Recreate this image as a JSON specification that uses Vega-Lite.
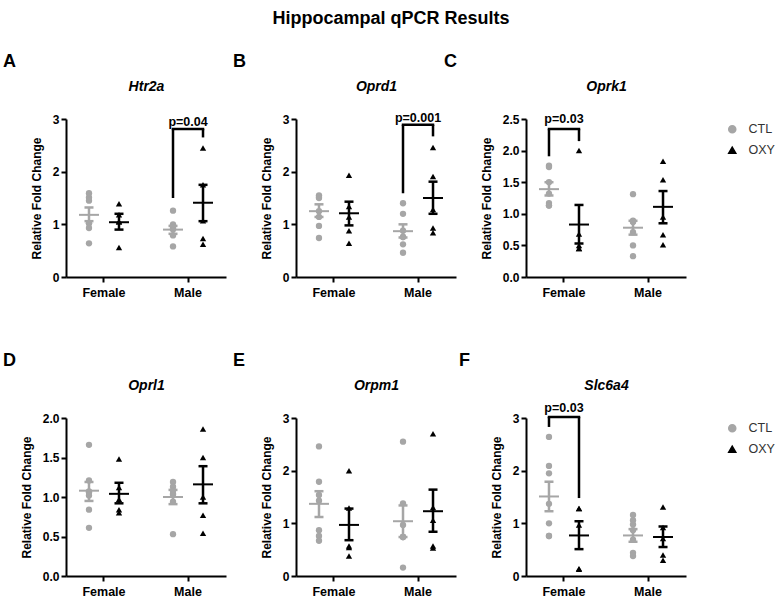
{
"$schema":"https://vega.github.io/schema/vega-lite/v6.json",
"padding":{"left":3,"top":10,"right":2,"bottom":0},
"title":{"text":"Hippocampal qPCR Results","fontSize":18,"fontWeight":"bold","font":"Liberation Sans","anchor":"middle","offset":25,"color":"#000"},
"config":{
 "font":"Liberation Sans",
 "view":{"stroke":null},
 "axis":{"labelFont":"Liberation Sans","titleFont":"Liberation Sans","labelFontWeight":"bold","labelFontSize":12,"labelColor":"#000","titleFontWeight":"bold","titleFontSize":12,"titleColor":"#000","domainColor":"#000","domainWidth":2,"tickColor":"#000","tickWidth":2,"tickSize":5,"grid":false,"labelPadding":3},
 "axisY":{"titlePadding":9,"labelPadding":2},
 "axisX":{"labelFontSize":12.5,"labelPadding":4,"labelAngle":0},
 "title":{"font":"Liberation Sans","color":"#000"}
},
"datasets":{
"pts":[
{"gene":"Htr2a","sex":"Female","group":"CTL","value":1.51},{"gene":"Htr2a","sex":"Female","group":"CTL","value":1.59},{"gene":"Htr2a","sex":"Female","group":"CTL","value":1.45},{"gene":"Htr2a","sex":"Female","group":"CTL","value":1.02},{"gene":"Htr2a","sex":"Female","group":"CTL","value":1.02},{"gene":"Htr2a","sex":"Female","group":"CTL","value":0.93},{"gene":"Htr2a","sex":"Female","group":"CTL","value":0.64},
{"gene":"Htr2a","sex":"Female","group":"OXY","value":1.39},{"gene":"Htr2a","sex":"Female","group":"OXY","value":1.18},{"gene":"Htr2a","sex":"Female","group":"OXY","value":1.05},{"gene":"Htr2a","sex":"Female","group":"OXY","value":1.05},{"gene":"Htr2a","sex":"Female","group":"OXY","value":0.56},
{"gene":"Htr2a","sex":"Male","group":"CTL","value":1.26},{"gene":"Htr2a","sex":"Male","group":"CTL","value":1.00},{"gene":"Htr2a","sex":"Male","group":"CTL","value":0.95},{"gene":"Htr2a","sex":"Male","group":"CTL","value":0.92},{"gene":"Htr2a","sex":"Male","group":"CTL","value":0.90},{"gene":"Htr2a","sex":"Male","group":"CTL","value":0.79},{"gene":"Htr2a","sex":"Male","group":"CTL","value":0.58},
{"gene":"Htr2a","sex":"Male","group":"OXY","value":2.45},{"gene":"Htr2a","sex":"Male","group":"OXY","value":1.75},{"gene":"Htr2a","sex":"Male","group":"OXY","value":1.07},{"gene":"Htr2a","sex":"Male","group":"OXY","value":0.62},{"gene":"Htr2a","sex":"Male","group":"OXY","value":0.73},
{"gene":"Oprd1","sex":"Female","group":"CTL","value":1.55},{"gene":"Oprd1","sex":"Female","group":"CTL","value":1.52},{"gene":"Oprd1","sex":"Female","group":"CTL","value":1.50},{"gene":"Oprd1","sex":"Female","group":"CTL","value":1.25},{"gene":"Oprd1","sex":"Female","group":"CTL","value":1.14},{"gene":"Oprd1","sex":"Female","group":"CTL","value":0.97},{"gene":"Oprd1","sex":"Female","group":"CTL","value":0.74},
{"gene":"Oprd1","sex":"Female","group":"OXY","value":1.93},{"gene":"Oprd1","sex":"Female","group":"OXY","value":1.34},{"gene":"Oprd1","sex":"Female","group":"OXY","value":1.14},{"gene":"Oprd1","sex":"Female","group":"OXY","value":0.88},{"gene":"Oprd1","sex":"Female","group":"OXY","value":0.64},
{"gene":"Oprd1","sex":"Male","group":"CTL","value":1.40},{"gene":"Oprd1","sex":"Male","group":"CTL","value":1.20},{"gene":"Oprd1","sex":"Male","group":"CTL","value":0.88},{"gene":"Oprd1","sex":"Male","group":"CTL","value":0.76},{"gene":"Oprd1","sex":"Male","group":"CTL","value":0.76},{"gene":"Oprd1","sex":"Male","group":"CTL","value":0.62},{"gene":"Oprd1","sex":"Male","group":"CTL","value":0.46},
{"gene":"Oprd1","sex":"Male","group":"OXY","value":2.46},{"gene":"Oprd1","sex":"Male","group":"OXY","value":1.91},{"gene":"Oprd1","sex":"Male","group":"OXY","value":1.28},{"gene":"Oprd1","sex":"Male","group":"OXY","value":0.84},{"gene":"Oprd1","sex":"Male","group":"OXY","value":0.93},
{"gene":"Oprk1","sex":"Female","group":"CTL","value":1.76},{"gene":"Oprk1","sex":"Female","group":"CTL","value":1.74},{"gene":"Oprk1","sex":"Female","group":"CTL","value":1.50},{"gene":"Oprk1","sex":"Female","group":"CTL","value":1.32},{"gene":"Oprk1","sex":"Female","group":"CTL","value":1.17},{"gene":"Oprk1","sex":"Female","group":"CTL","value":1.13},{"gene":"Oprk1","sex":"Female","group":"CTL","value":1.13},
{"gene":"Oprk1","sex":"Female","group":"OXY","value":2.00},{"gene":"Oprk1","sex":"Female","group":"OXY","value":0.68},{"gene":"Oprk1","sex":"Female","group":"OXY","value":0.50},{"gene":"Oprk1","sex":"Female","group":"OXY","value":0.45},{"gene":"Oprk1","sex":"Female","group":"OXY","value":0.45},
{"gene":"Oprk1","sex":"Male","group":"CTL","value":1.31},{"gene":"Oprk1","sex":"Male","group":"CTL","value":0.89},{"gene":"Oprk1","sex":"Male","group":"CTL","value":0.88},{"gene":"Oprk1","sex":"Male","group":"CTL","value":0.87},{"gene":"Oprk1","sex":"Male","group":"CTL","value":0.71},{"gene":"Oprk1","sex":"Male","group":"CTL","value":0.50},{"gene":"Oprk1","sex":"Male","group":"CTL","value":0.33},
{"gene":"Oprk1","sex":"Male","group":"OXY","value":1.83},{"gene":"Oprk1","sex":"Male","group":"OXY","value":1.54},{"gene":"Oprk1","sex":"Male","group":"OXY","value":0.95},{"gene":"Oprk1","sex":"Male","group":"OXY","value":0.67},{"gene":"Oprk1","sex":"Male","group":"OXY","value":0.51},
{"gene":"Oprl1","sex":"Female","group":"CTL","value":1.66},{"gene":"Oprl1","sex":"Female","group":"CTL","value":1.21},{"gene":"Oprl1","sex":"Female","group":"CTL","value":1.07},{"gene":"Oprl1","sex":"Female","group":"CTL","value":1.06},{"gene":"Oprl1","sex":"Female","group":"CTL","value":1.02},{"gene":"Oprl1","sex":"Female","group":"CTL","value":0.84},{"gene":"Oprl1","sex":"Female","group":"CTL","value":0.61},
{"gene":"Oprl1","sex":"Female","group":"OXY","value":1.48},{"gene":"Oprl1","sex":"Female","group":"OXY","value":1.12},{"gene":"Oprl1","sex":"Female","group":"OXY","value":0.97},{"gene":"Oprl1","sex":"Female","group":"OXY","value":0.80},{"gene":"Oprl1","sex":"Female","group":"OXY","value":0.84},
{"gene":"Oprl1","sex":"Male","group":"CTL","value":1.19},{"gene":"Oprl1","sex":"Male","group":"CTL","value":1.13},{"gene":"Oprl1","sex":"Male","group":"CTL","value":1.08},{"gene":"Oprl1","sex":"Male","group":"CTL","value":1.04},{"gene":"Oprl1","sex":"Male","group":"CTL","value":1.03},{"gene":"Oprl1","sex":"Male","group":"CTL","value":0.94},{"gene":"Oprl1","sex":"Male","group":"CTL","value":0.53},
{"gene":"Oprl1","sex":"Male","group":"OXY","value":1.86},{"gene":"Oprl1","sex":"Male","group":"OXY","value":1.50},{"gene":"Oprl1","sex":"Male","group":"OXY","value":1.00},{"gene":"Oprl1","sex":"Male","group":"OXY","value":0.77},{"gene":"Oprl1","sex":"Male","group":"OXY","value":0.54},
{"gene":"Orpm1","sex":"Female","group":"CTL","value":2.46},{"gene":"Orpm1","sex":"Female","group":"CTL","value":1.79},{"gene":"Orpm1","sex":"Female","group":"CTL","value":1.54},{"gene":"Orpm1","sex":"Female","group":"CTL","value":1.43},{"gene":"Orpm1","sex":"Female","group":"CTL","value":0.87},{"gene":"Orpm1","sex":"Female","group":"CTL","value":0.76},{"gene":"Orpm1","sex":"Female","group":"CTL","value":0.67},
{"gene":"Orpm1","sex":"Female","group":"OXY","value":2.00},{"gene":"Orpm1","sex":"Female","group":"OXY","value":1.29},{"gene":"Orpm1","sex":"Female","group":"OXY","value":0.57},{"gene":"Orpm1","sex":"Female","group":"OXY","value":0.54},{"gene":"Orpm1","sex":"Female","group":"OXY","value":0.38},
{"gene":"Orpm1","sex":"Male","group":"CTL","value":2.55},{"gene":"Orpm1","sex":"Male","group":"CTL","value":1.38},{"gene":"Orpm1","sex":"Male","group":"CTL","value":0.97},{"gene":"Orpm1","sex":"Male","group":"CTL","value":0.74},{"gene":"Orpm1","sex":"Male","group":"CTL","value":0.74},{"gene":"Orpm1","sex":"Male","group":"CTL","value":0.74},{"gene":"Orpm1","sex":"Male","group":"CTL","value":0.16},
{"gene":"Orpm1","sex":"Male","group":"OXY","value":2.70},{"gene":"Orpm1","sex":"Male","group":"OXY","value":1.30},{"gene":"Orpm1","sex":"Male","group":"OXY","value":1.06},{"gene":"Orpm1","sex":"Male","group":"OXY","value":0.53},{"gene":"Orpm1","sex":"Male","group":"OXY","value":0.57},
{"gene":"Slc6a4","sex":"Female","group":"CTL","value":2.64},{"gene":"Slc6a4","sex":"Female","group":"CTL","value":2.09},{"gene":"Slc6a4","sex":"Female","group":"CTL","value":1.95},{"gene":"Slc6a4","sex":"Female","group":"CTL","value":1.37},{"gene":"Slc6a4","sex":"Female","group":"CTL","value":1.00},{"gene":"Slc6a4","sex":"Female","group":"CTL","value":0.76},{"gene":"Slc6a4","sex":"Female","group":"CTL","value":0.76},
{"gene":"Slc6a4","sex":"Female","group":"OXY","value":1.28},{"gene":"Slc6a4","sex":"Female","group":"OXY","value":1.28},{"gene":"Slc6a4","sex":"Female","group":"OXY","value":0.97},{"gene":"Slc6a4","sex":"Female","group":"OXY","value":0.13},{"gene":"Slc6a4","sex":"Female","group":"OXY","value":0.14},
{"gene":"Slc6a4","sex":"Male","group":"CTL","value":1.16},{"gene":"Slc6a4","sex":"Male","group":"CTL","value":1.06},{"gene":"Slc6a4","sex":"Male","group":"CTL","value":0.98},{"gene":"Slc6a4","sex":"Male","group":"CTL","value":0.87},{"gene":"Slc6a4","sex":"Male","group":"CTL","value":0.69},{"gene":"Slc6a4","sex":"Male","group":"CTL","value":0.44},{"gene":"Slc6a4","sex":"Male","group":"CTL","value":0.38},
{"gene":"Slc6a4","sex":"Male","group":"OXY","value":1.31},{"gene":"Slc6a4","sex":"Male","group":"OXY","value":0.92},{"gene":"Slc6a4","sex":"Male","group":"OXY","value":0.71},{"gene":"Slc6a4","sex":"Male","group":"OXY","value":0.30},{"gene":"Slc6a4","sex":"Male","group":"OXY","value":0.40}
],
"sem":[
{"gene":"Htr2a","sex":"Female","group":"CTL","mean":1.18,"lo":1.06,"hi":1.32},{"gene":"Htr2a","sex":"Female","group":"OXY","mean":1.04,"lo":0.90,"hi":1.20},{"gene":"Htr2a","sex":"Male","group":"CTL","mean":0.90,"lo":0.82,"hi":0.97},{"gene":"Htr2a","sex":"Male","group":"OXY","mean":1.41,"lo":1.06,"hi":1.75},
{"gene":"Oprd1","sex":"Female","group":"CTL","mean":1.25,"lo":1.14,"hi":1.38},{"gene":"Oprd1","sex":"Female","group":"OXY","mean":1.21,"lo":0.98,"hi":1.43},{"gene":"Oprd1","sex":"Male","group":"CTL","mean":0.87,"lo":0.75,"hi":1.00},{"gene":"Oprd1","sex":"Male","group":"OXY","mean":1.50,"lo":1.20,"hi":1.81},
{"gene":"Oprk1","sex":"Female","group":"CTL","mean":1.39,"lo":1.29,"hi":1.50},{"gene":"Oprk1","sex":"Female","group":"OXY","mean":0.83,"lo":0.53,"hi":1.14},{"gene":"Oprk1","sex":"Male","group":"CTL","mean":0.78,"lo":0.67,"hi":0.89},{"gene":"Oprk1","sex":"Male","group":"OXY","mean":1.11,"lo":0.85,"hi":1.36},
{"gene":"Oprl1","sex":"Female","group":"CTL","mean":1.08,"lo":0.95,"hi":1.19},{"gene":"Oprl1","sex":"Female","group":"OXY","mean":1.04,"lo":0.92,"hi":1.18},{"gene":"Oprl1","sex":"Male","group":"CTL","mean":1.00,"lo":0.91,"hi":1.09},{"gene":"Oprl1","sex":"Male","group":"OXY","mean":1.16,"lo":0.92,"hi":1.39},
{"gene":"Orpm1","sex":"Female","group":"CTL","mean":1.37,"lo":1.12,"hi":1.61},{"gene":"Orpm1","sex":"Female","group":"OXY","mean":0.97,"lo":0.68,"hi":1.28},{"gene":"Orpm1","sex":"Male","group":"CTL","mean":1.04,"lo":0.74,"hi":1.34},{"gene":"Orpm1","sex":"Male","group":"OXY","mean":1.23,"lo":0.84,"hi":1.64},
{"gene":"Slc6a4","sex":"Female","group":"CTL","mean":1.51,"lo":1.23,"hi":1.79},{"gene":"Slc6a4","sex":"Female","group":"OXY","mean":0.77,"lo":0.51,"hi":1.04},{"gene":"Slc6a4","sex":"Male","group":"CTL","mean":0.77,"lo":0.65,"hi":0.89},{"gene":"Slc6a4","sex":"Male","group":"OXY","mean":0.74,"lo":0.55,"hi":0.94}
],
"brk":[
{"gene":"Htr2a","sex":"Male","group":"CTL","from":1.50,"to":2.81},{"gene":"Htr2a","sex":"Male","group":"OXY","from":2.65,"to":2.81},
{"gene":"Oprd1","sex":"Male","group":"CTL","from":1.59,"to":2.89},{"gene":"Oprd1","sex":"Male","group":"OXY","from":2.67,"to":2.89},
{"gene":"Oprk1","sex":"Female","group":"CTL","from":1.91,"to":2.34},{"gene":"Oprk1","sex":"Female","group":"OXY","from":2.15,"to":2.34},
{"gene":"Slc6a4","sex":"Female","group":"CTL","from":2.83,"to":3.02},{"gene":"Slc6a4","sex":"Female","group":"OXY","from":1.48,"to":3.02}
],
"ptxt":[
{"gene":"Htr2a","sex":"Male","label":"p=0.04","y":2.95},
{"gene":"Oprd1","sex":"Male","label":"p=0.001","y":3.02},
{"gene":"Oprk1","sex":"Female","label":"p=0.03","y":2.5},
{"gene":"Slc6a4","sex":"Female","label":"p=0.03","y":3.19}
]
},
"bounds":"flush",
"spacing":299,
"resolve":{"scale":{"x":"independent","y":"independent","color":"independent","shape":"independent"},"legend":{"color":"independent","shape":"independent"}},
"vconcat":[
{"bounds":"flush","spacing":70,
 "resolve":{"scale":{"x":"independent","y":"independent","color":"independent","shape":"independent"},"legend":{"color":"independent","shape":"independent"}},
 "hconcat":[
 {"width":160,"height":158,
  "title":{"text":"A","anchor":"start","frame":"group","dx":-63,"fontSize":18,"fontWeight":"bold","offset":8},
  "resolve":{"axis":{"x":"independent","y":"independent"}},
  "layer":[
   {"data":{"name":"pts"},"transform":[{"filter":"datum.gene === 'Htr2a'"}],"mark":{"type":"point","filled":true,"size":40,"opacity":1},
    "encoding":{"x":{"field":"sex","type":"nominal","scale":{"type":"band","domain":["Female","Male"],"paddingInner":0.2857,"paddingOuter":0.095},"axis":{"title":null}},
     "xOffset":{"field":"group","type":"nominal","scale":{"type":"band","domain":["CTL","OXY"],"paddingInner":0,"paddingOuter":0}},
     "y":{"field":"value","type":"quantitative","scale":{"domain":[0,3],"nice":false},"axis":{"title":"Relative Fold Change","values":[0,1,2,3],"format":"d"}},
     "color":{"field":"group","type":"nominal","scale":{"domain":["CTL","OXY"],"range":["#a6a6a6","#000000"]},"legend":null},
     "shape":{"field":"group","type":"nominal","scale":{"domain":["CTL","OXY"],"range":["circle","triangle-up"]},"legend":null}}},
   {"data":{"name":"sem"},"transform":[{"filter":"datum.gene === 'Htr2a'"}],"mark":{"type":"rule","strokeWidth":2.5},
    "encoding":{"x":{"field":"sex","type":"nominal","scale":{"type":"band","domain":["Female","Male"],"paddingInner":0.2857,"paddingOuter":0.095},"axis":null},
     "xOffset":{"field":"group","type":"nominal","scale":{"type":"band","domain":["CTL","OXY"],"paddingInner":0,"paddingOuter":0}},
     "y":{"field":"lo","type":"quantitative","scale":{"domain":[0,3],"nice":false},"axis":null},"y2":{"field":"hi"},
     "color":{"field":"group","type":"nominal","scale":{"domain":["CTL","OXY"],"range":["#a6a6a6","#000000"]},"legend":null}}},
   {"data":{"name":"sem"},"transform":[{"filter":"datum.gene === 'Htr2a'"},{"fold":["lo","hi"],"as":["k","v"]}],"mark":{"type":"tick","size":9,"thickness":2.5,"opacity":1},
    "encoding":{"x":{"field":"sex","type":"nominal","scale":{"type":"band","domain":["Female","Male"],"paddingInner":0.2857,"paddingOuter":0.095},"axis":null},
     "xOffset":{"field":"group","type":"nominal","scale":{"type":"band","domain":["CTL","OXY"],"paddingInner":0,"paddingOuter":0}},
     "y":{"field":"v","type":"quantitative","scale":{"domain":[0,3],"nice":false},"axis":null},
     "color":{"field":"group","type":"nominal","scale":{"domain":["CTL","OXY"],"range":["#a6a6a6","#000000"]},"legend":null}}},
   {"data":{"name":"sem"},"transform":[{"filter":"datum.gene === 'Htr2a'"}],"mark":{"type":"tick","size":20,"thickness":2,"opacity":1},
    "encoding":{"x":{"field":"sex","type":"nominal","scale":{"type":"band","domain":["Female","Male"],"paddingInner":0.2857,"paddingOuter":0.095},"axis":{"orient":"top","title":"Htr2a","labels":false,"ticks":false,"domain":false,"titleFontStyle":"italic","titleFontSize":14,"titlePadding":26}},
     "xOffset":{"field":"group","type":"nominal","scale":{"type":"band","domain":["CTL","OXY"],"paddingInner":0,"paddingOuter":0}},
     "y":{"field":"mean","type":"quantitative","scale":{"domain":[0,3],"nice":false},"axis":null},
     "color":{"field":"group","type":"nominal","scale":{"domain":["CTL","OXY"],"range":["#a6a6a6","#000000"]},"legend":null}}},
   {"data":{"name":"brk"},"transform":[{"filter":"datum.gene === 'Htr2a'"}],"mark":{"type":"rule","strokeWidth":2.5,"color":"#000"},
    "encoding":{"x":{"field":"sex","type":"nominal","scale":{"type":"band","domain":["Female","Male"],"paddingInner":0.2857,"paddingOuter":0.095},"axis":null},
     "xOffset":{"field":"group","type":"nominal","scale":{"type":"band","domain":["CTL","OXY"],"paddingInner":0,"paddingOuter":0}},
     "y":{"field":"from","type":"quantitative","scale":{"domain":[0,3],"nice":false},"axis":null},"y2":{"field":"to"}}},
   {"data":{"name":"brk"},"transform":[{"filter":"datum.gene === 'Htr2a' && datum.group === 'CTL'"}],"mark":{"type":"tick","size":32.5,"thickness":2.5,"color":"#000","opacity":1},
    "encoding":{"x":{"field":"sex","type":"nominal","scale":{"type":"band","domain":["Female","Male"],"paddingInner":0.2857,"paddingOuter":0.095},"axis":null},
     "y":{"field":"to","type":"quantitative","scale":{"domain":[0,3],"nice":false},"axis":null}}},
   {"data":{"name":"ptxt"},"transform":[{"filter":"datum.gene === 'Htr2a'"}],"mark":{"type":"text","fontSize":12.5,"fontWeight":"bold","color":"#000"},
    "encoding":{"x":{"field":"sex","type":"nominal","scale":{"type":"band","domain":["Female","Male"],"paddingInner":0.2857,"paddingOuter":0.095},"axis":null},
     "y":{"field":"y","type":"quantitative","scale":{"domain":[0,3],"nice":false},"axis":null},"text":{"field":"label"}}}
  ]},
 {"width":160,"height":158,
  "title":{"text":"B","anchor":"start","frame":"group","dx":-63,"fontSize":18,"fontWeight":"bold","offset":8},
  "resolve":{"axis":{"x":"independent","y":"independent"}},
  "layer":[
   {"data":{"name":"pts"},"transform":[{"filter":"datum.gene === 'Oprd1'"}],"mark":{"type":"point","filled":true,"size":40,"opacity":1},
    "encoding":{"x":{"field":"sex","type":"nominal","scale":{"type":"band","domain":["Female","Male"],"paddingInner":0.2857,"paddingOuter":0.095},"axis":{"title":null}},
     "xOffset":{"field":"group","type":"nominal","scale":{"type":"band","domain":["CTL","OXY"],"paddingInner":0,"paddingOuter":0}},
     "y":{"field":"value","type":"quantitative","scale":{"domain":[0,3],"nice":false},"axis":{"title":"Relative Fold Change","values":[0,1,2,3],"format":"d"}},
     "color":{"field":"group","type":"nominal","scale":{"domain":["CTL","OXY"],"range":["#a6a6a6","#000000"]},"legend":null},
     "shape":{"field":"group","type":"nominal","scale":{"domain":["CTL","OXY"],"range":["circle","triangle-up"]},"legend":null}}},
   {"data":{"name":"sem"},"transform":[{"filter":"datum.gene === 'Oprd1'"}],"mark":{"type":"rule","strokeWidth":2.5},
    "encoding":{"x":{"field":"sex","type":"nominal","scale":{"type":"band","domain":["Female","Male"],"paddingInner":0.2857,"paddingOuter":0.095},"axis":null},
     "xOffset":{"field":"group","type":"nominal","scale":{"type":"band","domain":["CTL","OXY"],"paddingInner":0,"paddingOuter":0}},
     "y":{"field":"lo","type":"quantitative","scale":{"domain":[0,3],"nice":false},"axis":null},"y2":{"field":"hi"},
     "color":{"field":"group","type":"nominal","scale":{"domain":["CTL","OXY"],"range":["#a6a6a6","#000000"]},"legend":null}}},
   {"data":{"name":"sem"},"transform":[{"filter":"datum.gene === 'Oprd1'"},{"fold":["lo","hi"],"as":["k","v"]}],"mark":{"type":"tick","size":9,"thickness":2.5,"opacity":1},
    "encoding":{"x":{"field":"sex","type":"nominal","scale":{"type":"band","domain":["Female","Male"],"paddingInner":0.2857,"paddingOuter":0.095},"axis":null},
     "xOffset":{"field":"group","type":"nominal","scale":{"type":"band","domain":["CTL","OXY"],"paddingInner":0,"paddingOuter":0}},
     "y":{"field":"v","type":"quantitative","scale":{"domain":[0,3],"nice":false},"axis":null},
     "color":{"field":"group","type":"nominal","scale":{"domain":["CTL","OXY"],"range":["#a6a6a6","#000000"]},"legend":null}}},
   {"data":{"name":"sem"},"transform":[{"filter":"datum.gene === 'Oprd1'"}],"mark":{"type":"tick","size":20,"thickness":2,"opacity":1},
    "encoding":{"x":{"field":"sex","type":"nominal","scale":{"type":"band","domain":["Female","Male"],"paddingInner":0.2857,"paddingOuter":0.095},"axis":{"orient":"top","title":"Oprd1","labels":false,"ticks":false,"domain":false,"titleFontStyle":"italic","titleFontSize":14,"titlePadding":26}},
     "xOffset":{"field":"group","type":"nominal","scale":{"type":"band","domain":["CTL","OXY"],"paddingInner":0,"paddingOuter":0}},
     "y":{"field":"mean","type":"quantitative","scale":{"domain":[0,3],"nice":false},"axis":null},
     "color":{"field":"group","type":"nominal","scale":{"domain":["CTL","OXY"],"range":["#a6a6a6","#000000"]},"legend":null}}},
   {"data":{"name":"brk"},"transform":[{"filter":"datum.gene === 'Oprd1'"}],"mark":{"type":"rule","strokeWidth":2.5,"color":"#000"},
    "encoding":{"x":{"field":"sex","type":"nominal","scale":{"type":"band","domain":["Female","Male"],"paddingInner":0.2857,"paddingOuter":0.095},"axis":null},
     "xOffset":{"field":"group","type":"nominal","scale":{"type":"band","domain":["CTL","OXY"],"paddingInner":0,"paddingOuter":0}},
     "y":{"field":"from","type":"quantitative","scale":{"domain":[0,3],"nice":false},"axis":null},"y2":{"field":"to"}}},
   {"data":{"name":"brk"},"transform":[{"filter":"datum.gene === 'Oprd1' && datum.group === 'CTL'"}],"mark":{"type":"tick","size":32.5,"thickness":2.5,"color":"#000","opacity":1},
    "encoding":{"x":{"field":"sex","type":"nominal","scale":{"type":"band","domain":["Female","Male"],"paddingInner":0.2857,"paddingOuter":0.095},"axis":null},
     "y":{"field":"to","type":"quantitative","scale":{"domain":[0,3],"nice":false},"axis":null}}},
   {"data":{"name":"ptxt"},"transform":[{"filter":"datum.gene === 'Oprd1'"}],"mark":{"type":"text","fontSize":12.5,"fontWeight":"bold","color":"#000"},
    "encoding":{"x":{"field":"sex","type":"nominal","scale":{"type":"band","domain":["Female","Male"],"paddingInner":0.2857,"paddingOuter":0.095},"axis":null},
     "y":{"field":"y","type":"quantitative","scale":{"domain":[0,3],"nice":false},"axis":null},"text":{"field":"label"}}}
  ]},
 {"width":160,"height":158,
  "title":{"text":"C","anchor":"start","frame":"group","dx":-82,"fontSize":18,"fontWeight":"bold","offset":8},
  "resolve":{"axis":{"x":"independent","y":"independent"}},
  "layer":[
   {"data":{"name":"pts"},"transform":[{"filter":"datum.gene === 'Oprk1'"}],"mark":{"type":"point","filled":true,"size":40,"opacity":1},
    "encoding":{"x":{"field":"sex","type":"nominal","scale":{"type":"band","domain":["Female","Male"],"paddingInner":0.2857,"paddingOuter":0.095},"axis":{"title":null}},
     "xOffset":{"field":"group","type":"nominal","scale":{"type":"band","domain":["CTL","OXY"],"paddingInner":0,"paddingOuter":0}},
     "y":{"field":"value","type":"quantitative","scale":{"domain":[0,2.5],"nice":false},"axis":{"title":"Relative Fold Change","values":[0,0.5,1,1.5,2,2.5],"format":".1f"}},
     "color":{"field":"group","type":"nominal","scale":{"domain":["CTL","OXY"],"range":["#a6a6a6","#000000"]},"legend":{"title":null,"orient":"right","offset":36,"labelFontSize":12.5,"labelColor":"#333","symbolSize":50,"rowPadding":8,"padding":4,"labelOffset":10}},
     "shape":{"field":"group","type":"nominal","scale":{"domain":["CTL","OXY"],"range":["circle","triangle-up"]},"legend":{"title":null,"orient":"right","offset":36,"labelFontSize":12.5,"labelColor":"#333","symbolSize":50,"rowPadding":8,"padding":4,"labelOffset":10}}}},
   {"data":{"name":"sem"},"transform":[{"filter":"datum.gene === 'Oprk1'"}],"mark":{"type":"rule","strokeWidth":2.5},
    "encoding":{"x":{"field":"sex","type":"nominal","scale":{"type":"band","domain":["Female","Male"],"paddingInner":0.2857,"paddingOuter":0.095},"axis":null},
     "xOffset":{"field":"group","type":"nominal","scale":{"type":"band","domain":["CTL","OXY"],"paddingInner":0,"paddingOuter":0}},
     "y":{"field":"lo","type":"quantitative","scale":{"domain":[0,2.5],"nice":false},"axis":null},"y2":{"field":"hi"},
     "color":{"field":"group","type":"nominal","scale":{"domain":["CTL","OXY"],"range":["#a6a6a6","#000000"]},"legend":null}}},
   {"data":{"name":"sem"},"transform":[{"filter":"datum.gene === 'Oprk1'"},{"fold":["lo","hi"],"as":["k","v"]}],"mark":{"type":"tick","size":9,"thickness":2.5,"opacity":1},
    "encoding":{"x":{"field":"sex","type":"nominal","scale":{"type":"band","domain":["Female","Male"],"paddingInner":0.2857,"paddingOuter":0.095},"axis":null},
     "xOffset":{"field":"group","type":"nominal","scale":{"type":"band","domain":["CTL","OXY"],"paddingInner":0,"paddingOuter":0}},
     "y":{"field":"v","type":"quantitative","scale":{"domain":[0,2.5],"nice":false},"axis":null},
     "color":{"field":"group","type":"nominal","scale":{"domain":["CTL","OXY"],"range":["#a6a6a6","#000000"]},"legend":null}}},
   {"data":{"name":"sem"},"transform":[{"filter":"datum.gene === 'Oprk1'"}],"mark":{"type":"tick","size":20,"thickness":2,"opacity":1},
    "encoding":{"x":{"field":"sex","type":"nominal","scale":{"type":"band","domain":["Female","Male"],"paddingInner":0.2857,"paddingOuter":0.095},"axis":{"orient":"top","title":"Oprk1","labels":false,"ticks":false,"domain":false,"titleFontStyle":"italic","titleFontSize":14,"titlePadding":26}},
     "xOffset":{"field":"group","type":"nominal","scale":{"type":"band","domain":["CTL","OXY"],"paddingInner":0,"paddingOuter":0}},
     "y":{"field":"mean","type":"quantitative","scale":{"domain":[0,2.5],"nice":false},"axis":null},
     "color":{"field":"group","type":"nominal","scale":{"domain":["CTL","OXY"],"range":["#a6a6a6","#000000"]},"legend":null}}},
   {"data":{"name":"brk"},"transform":[{"filter":"datum.gene === 'Oprk1'"}],"mark":{"type":"rule","strokeWidth":2.5,"color":"#000"},
    "encoding":{"x":{"field":"sex","type":"nominal","scale":{"type":"band","domain":["Female","Male"],"paddingInner":0.2857,"paddingOuter":0.095},"axis":null},
     "xOffset":{"field":"group","type":"nominal","scale":{"type":"band","domain":["CTL","OXY"],"paddingInner":0,"paddingOuter":0}},
     "y":{"field":"from","type":"quantitative","scale":{"domain":[0,2.5],"nice":false},"axis":null},"y2":{"field":"to"}}},
   {"data":{"name":"brk"},"transform":[{"filter":"datum.gene === 'Oprk1' && datum.group === 'CTL'"}],"mark":{"type":"tick","size":32.5,"thickness":2.5,"color":"#000","opacity":1},
    "encoding":{"x":{"field":"sex","type":"nominal","scale":{"type":"band","domain":["Female","Male"],"paddingInner":0.2857,"paddingOuter":0.095},"axis":null},
     "y":{"field":"to","type":"quantitative","scale":{"domain":[0,2.5],"nice":false},"axis":null}}},
   {"data":{"name":"ptxt"},"transform":[{"filter":"datum.gene === 'Oprk1'"}],"mark":{"type":"text","fontSize":12.5,"fontWeight":"bold","color":"#000"},
    "encoding":{"x":{"field":"sex","type":"nominal","scale":{"type":"band","domain":["Female","Male"],"paddingInner":0.2857,"paddingOuter":0.095},"axis":null},
     "y":{"field":"y","type":"quantitative","scale":{"domain":[0,2.5],"nice":false},"axis":null},"text":{"field":"label"}}}
  ]}
 ]},
{"bounds":"flush","spacing":70,
 "resolve":{"scale":{"x":"independent","y":"independent","color":"independent","shape":"independent"},"legend":{"color":"independent","shape":"independent"}},
 "hconcat":[
 {"width":160,"height":158,
  "title":{"text":"D","anchor":"start","frame":"group","dx":-63,"fontSize":18,"fontWeight":"bold","offset":8},
  "resolve":{"axis":{"x":"independent","y":"independent"}},
  "layer":[
   {"data":{"name":"pts"},"transform":[{"filter":"datum.gene === 'Oprl1'"}],"mark":{"type":"point","filled":true,"size":40,"opacity":1},
    "encoding":{"x":{"field":"sex","type":"nominal","scale":{"type":"band","domain":["Female","Male"],"paddingInner":0.2857,"paddingOuter":0.095},"axis":{"title":null}},
     "xOffset":{"field":"group","type":"nominal","scale":{"type":"band","domain":["CTL","OXY"],"paddingInner":0,"paddingOuter":0}},
     "y":{"field":"value","type":"quantitative","scale":{"domain":[0,2],"nice":false},"axis":{"title":"Relative Fold Change","values":[0,0.5,1,1.5,2],"format":".1f"}},
     "color":{"field":"group","type":"nominal","scale":{"domain":["CTL","OXY"],"range":["#a6a6a6","#000000"]},"legend":null},
     "shape":{"field":"group","type":"nominal","scale":{"domain":["CTL","OXY"],"range":["circle","triangle-up"]},"legend":null}}},
   {"data":{"name":"sem"},"transform":[{"filter":"datum.gene === 'Oprl1'"}],"mark":{"type":"rule","strokeWidth":2.5},
    "encoding":{"x":{"field":"sex","type":"nominal","scale":{"type":"band","domain":["Female","Male"],"paddingInner":0.2857,"paddingOuter":0.095},"axis":null},
     "xOffset":{"field":"group","type":"nominal","scale":{"type":"band","domain":["CTL","OXY"],"paddingInner":0,"paddingOuter":0}},
     "y":{"field":"lo","type":"quantitative","scale":{"domain":[0,2],"nice":false},"axis":null},"y2":{"field":"hi"},
     "color":{"field":"group","type":"nominal","scale":{"domain":["CTL","OXY"],"range":["#a6a6a6","#000000"]},"legend":null}}},
   {"data":{"name":"sem"},"transform":[{"filter":"datum.gene === 'Oprl1'"},{"fold":["lo","hi"],"as":["k","v"]}],"mark":{"type":"tick","size":9,"thickness":2.5,"opacity":1},
    "encoding":{"x":{"field":"sex","type":"nominal","scale":{"type":"band","domain":["Female","Male"],"paddingInner":0.2857,"paddingOuter":0.095},"axis":null},
     "xOffset":{"field":"group","type":"nominal","scale":{"type":"band","domain":["CTL","OXY"],"paddingInner":0,"paddingOuter":0}},
     "y":{"field":"v","type":"quantitative","scale":{"domain":[0,2],"nice":false},"axis":null},
     "color":{"field":"group","type":"nominal","scale":{"domain":["CTL","OXY"],"range":["#a6a6a6","#000000"]},"legend":null}}},
   {"data":{"name":"sem"},"transform":[{"filter":"datum.gene === 'Oprl1'"}],"mark":{"type":"tick","size":20,"thickness":2,"opacity":1},
    "encoding":{"x":{"field":"sex","type":"nominal","scale":{"type":"band","domain":["Female","Male"],"paddingInner":0.2857,"paddingOuter":0.095},"axis":{"orient":"top","title":"Oprl1","labels":false,"ticks":false,"domain":false,"titleFontStyle":"italic","titleFontSize":14,"titlePadding":26}},
     "xOffset":{"field":"group","type":"nominal","scale":{"type":"band","domain":["CTL","OXY"],"paddingInner":0,"paddingOuter":0}},
     "y":{"field":"mean","type":"quantitative","scale":{"domain":[0,2],"nice":false},"axis":null},
     "color":{"field":"group","type":"nominal","scale":{"domain":["CTL","OXY"],"range":["#a6a6a6","#000000"]},"legend":null}}}
  ]},
 {"width":160,"height":158,
  "title":{"text":"E","anchor":"start","frame":"group","dx":-63,"fontSize":18,"fontWeight":"bold","offset":8},
  "resolve":{"axis":{"x":"independent","y":"independent"}},
  "layer":[
   {"data":{"name":"pts"},"transform":[{"filter":"datum.gene === 'Orpm1'"}],"mark":{"type":"point","filled":true,"size":40,"opacity":1},
    "encoding":{"x":{"field":"sex","type":"nominal","scale":{"type":"band","domain":["Female","Male"],"paddingInner":0.2857,"paddingOuter":0.095},"axis":{"title":null}},
     "xOffset":{"field":"group","type":"nominal","scale":{"type":"band","domain":["CTL","OXY"],"paddingInner":0,"paddingOuter":0}},
     "y":{"field":"value","type":"quantitative","scale":{"domain":[0,3],"nice":false},"axis":{"title":"Relative Fold Change","values":[0,1,2,3],"format":"d"}},
     "color":{"field":"group","type":"nominal","scale":{"domain":["CTL","OXY"],"range":["#a6a6a6","#000000"]},"legend":null},
     "shape":{"field":"group","type":"nominal","scale":{"domain":["CTL","OXY"],"range":["circle","triangle-up"]},"legend":null}}},
   {"data":{"name":"sem"},"transform":[{"filter":"datum.gene === 'Orpm1'"}],"mark":{"type":"rule","strokeWidth":2.5},
    "encoding":{"x":{"field":"sex","type":"nominal","scale":{"type":"band","domain":["Female","Male"],"paddingInner":0.2857,"paddingOuter":0.095},"axis":null},
     "xOffset":{"field":"group","type":"nominal","scale":{"type":"band","domain":["CTL","OXY"],"paddingInner":0,"paddingOuter":0}},
     "y":{"field":"lo","type":"quantitative","scale":{"domain":[0,3],"nice":false},"axis":null},"y2":{"field":"hi"},
     "color":{"field":"group","type":"nominal","scale":{"domain":["CTL","OXY"],"range":["#a6a6a6","#000000"]},"legend":null}}},
   {"data":{"name":"sem"},"transform":[{"filter":"datum.gene === 'Orpm1'"},{"fold":["lo","hi"],"as":["k","v"]}],"mark":{"type":"tick","size":9,"thickness":2.5,"opacity":1},
    "encoding":{"x":{"field":"sex","type":"nominal","scale":{"type":"band","domain":["Female","Male"],"paddingInner":0.2857,"paddingOuter":0.095},"axis":null},
     "xOffset":{"field":"group","type":"nominal","scale":{"type":"band","domain":["CTL","OXY"],"paddingInner":0,"paddingOuter":0}},
     "y":{"field":"v","type":"quantitative","scale":{"domain":[0,3],"nice":false},"axis":null},
     "color":{"field":"group","type":"nominal","scale":{"domain":["CTL","OXY"],"range":["#a6a6a6","#000000"]},"legend":null}}},
   {"data":{"name":"sem"},"transform":[{"filter":"datum.gene === 'Orpm1'"}],"mark":{"type":"tick","size":20,"thickness":2,"opacity":1},
    "encoding":{"x":{"field":"sex","type":"nominal","scale":{"type":"band","domain":["Female","Male"],"paddingInner":0.2857,"paddingOuter":0.095},"axis":{"orient":"top","title":"Orpm1","labels":false,"ticks":false,"domain":false,"titleFontStyle":"italic","titleFontSize":14,"titlePadding":26}},
     "xOffset":{"field":"group","type":"nominal","scale":{"type":"band","domain":["CTL","OXY"],"paddingInner":0,"paddingOuter":0}},
     "y":{"field":"mean","type":"quantitative","scale":{"domain":[0,3],"nice":false},"axis":null},
     "color":{"field":"group","type":"nominal","scale":{"domain":["CTL","OXY"],"range":["#a6a6a6","#000000"]},"legend":null}}}
  ]},
 {"width":160,"height":158,
  "title":{"text":"F","anchor":"start","frame":"group","dx":-67,"fontSize":18,"fontWeight":"bold","offset":8},
  "resolve":{"axis":{"x":"independent","y":"independent"}},
  "layer":[
   {"data":{"name":"pts"},"transform":[{"filter":"datum.gene === 'Slc6a4'"}],"mark":{"type":"point","filled":true,"size":40,"opacity":1},
    "encoding":{"x":{"field":"sex","type":"nominal","scale":{"type":"band","domain":["Female","Male"],"paddingInner":0.2857,"paddingOuter":0.095},"axis":{"title":null}},
     "xOffset":{"field":"group","type":"nominal","scale":{"type":"band","domain":["CTL","OXY"],"paddingInner":0,"paddingOuter":0}},
     "y":{"field":"value","type":"quantitative","scale":{"domain":[0,3],"nice":false},"axis":{"title":"Relative Fold Change","values":[0,1,2,3],"format":"d"}},
     "color":{"field":"group","type":"nominal","scale":{"domain":["CTL","OXY"],"range":["#a6a6a6","#000000"]},"legend":{"title":null,"orient":"right","offset":36,"labelFontSize":12.5,"labelColor":"#333","symbolSize":50,"rowPadding":8,"padding":4,"labelOffset":10}},
     "shape":{"field":"group","type":"nominal","scale":{"domain":["CTL","OXY"],"range":["circle","triangle-up"]},"legend":{"title":null,"orient":"right","offset":36,"labelFontSize":12.5,"labelColor":"#333","symbolSize":50,"rowPadding":8,"padding":4,"labelOffset":10}}}},
   {"data":{"name":"sem"},"transform":[{"filter":"datum.gene === 'Slc6a4'"}],"mark":{"type":"rule","strokeWidth":2.5},
    "encoding":{"x":{"field":"sex","type":"nominal","scale":{"type":"band","domain":["Female","Male"],"paddingInner":0.2857,"paddingOuter":0.095},"axis":null},
     "xOffset":{"field":"group","type":"nominal","scale":{"type":"band","domain":["CTL","OXY"],"paddingInner":0,"paddingOuter":0}},
     "y":{"field":"lo","type":"quantitative","scale":{"domain":[0,3],"nice":false},"axis":null},"y2":{"field":"hi"},
     "color":{"field":"group","type":"nominal","scale":{"domain":["CTL","OXY"],"range":["#a6a6a6","#000000"]},"legend":null}}},
   {"data":{"name":"sem"},"transform":[{"filter":"datum.gene === 'Slc6a4'"},{"fold":["lo","hi"],"as":["k","v"]}],"mark":{"type":"tick","size":9,"thickness":2.5,"opacity":1},
    "encoding":{"x":{"field":"sex","type":"nominal","scale":{"type":"band","domain":["Female","Male"],"paddingInner":0.2857,"paddingOuter":0.095},"axis":null},
     "xOffset":{"field":"group","type":"nominal","scale":{"type":"band","domain":["CTL","OXY"],"paddingInner":0,"paddingOuter":0}},
     "y":{"field":"v","type":"quantitative","scale":{"domain":[0,3],"nice":false},"axis":null},
     "color":{"field":"group","type":"nominal","scale":{"domain":["CTL","OXY"],"range":["#a6a6a6","#000000"]},"legend":null}}},
   {"data":{"name":"sem"},"transform":[{"filter":"datum.gene === 'Slc6a4'"}],"mark":{"type":"tick","size":20,"thickness":2,"opacity":1},
    "encoding":{"x":{"field":"sex","type":"nominal","scale":{"type":"band","domain":["Female","Male"],"paddingInner":0.2857,"paddingOuter":0.095},"axis":{"orient":"top","title":"Slc6a4","labels":false,"ticks":false,"domain":false,"titleFontStyle":"italic","titleFontSize":14,"titlePadding":26}},
     "xOffset":{"field":"group","type":"nominal","scale":{"type":"band","domain":["CTL","OXY"],"paddingInner":0,"paddingOuter":0}},
     "y":{"field":"mean","type":"quantitative","scale":{"domain":[0,3],"nice":false},"axis":null},
     "color":{"field":"group","type":"nominal","scale":{"domain":["CTL","OXY"],"range":["#a6a6a6","#000000"]},"legend":null}}},
   {"data":{"name":"brk"},"transform":[{"filter":"datum.gene === 'Slc6a4'"}],"mark":{"type":"rule","strokeWidth":2.5,"color":"#000"},
    "encoding":{"x":{"field":"sex","type":"nominal","scale":{"type":"band","domain":["Female","Male"],"paddingInner":0.2857,"paddingOuter":0.095},"axis":null},
     "xOffset":{"field":"group","type":"nominal","scale":{"type":"band","domain":["CTL","OXY"],"paddingInner":0,"paddingOuter":0}},
     "y":{"field":"from","type":"quantitative","scale":{"domain":[0,3],"nice":false},"axis":null},"y2":{"field":"to"}}},
   {"data":{"name":"brk"},"transform":[{"filter":"datum.gene === 'Slc6a4' && datum.group === 'CTL'"}],"mark":{"type":"tick","size":32.5,"thickness":2.5,"color":"#000","opacity":1},
    "encoding":{"x":{"field":"sex","type":"nominal","scale":{"type":"band","domain":["Female","Male"],"paddingInner":0.2857,"paddingOuter":0.095},"axis":null},
     "y":{"field":"to","type":"quantitative","scale":{"domain":[0,3],"nice":false},"axis":null}}},
   {"data":{"name":"ptxt"},"transform":[{"filter":"datum.gene === 'Slc6a4'"}],"mark":{"type":"text","fontSize":12.5,"fontWeight":"bold","color":"#000"},
    "encoding":{"x":{"field":"sex","type":"nominal","scale":{"type":"band","domain":["Female","Male"],"paddingInner":0.2857,"paddingOuter":0.095},"axis":null},
     "y":{"field":"y","type":"quantitative","scale":{"domain":[0,3],"nice":false},"axis":null},"text":{"field":"label"}}}
  ]}
 ]}
]
}
